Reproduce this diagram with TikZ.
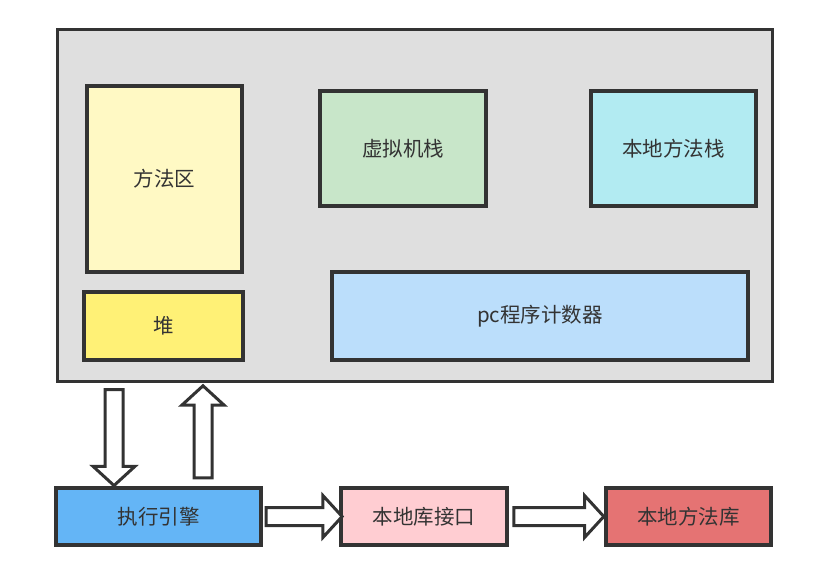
\documentclass[tikz,border=0pt]{standalone}
\usepackage{fontspec}
\setmainfont{Noto Sans CJK SC}
\usetikzlibrary{shapes.arrows,calc}
\definecolor{colLine}{RGB}{51,51,51}
\definecolor{colJvm}{RGB}{223,223,223}
\definecolor{colMethod}{RGB}{255,249,196}
\definecolor{colHeap}{RGB}{255,241,118}
\definecolor{colStack}{RGB}{200,230,201}
\definecolor{colNative}{RGB}{178,235,242}
\definecolor{colPc}{RGB}{187,222,251}
\definecolor{colEngine}{RGB}{100,181,246}
\definecolor{colJni}{RGB}{255,205,210}
\definecolor{colLib}{RGB}{229,115,115}

\begin{document}
\begin{tikzpicture}[
    x=1pt, y=-1pt,
    every node/.style={font=\fontsize{20.5}{24}\selectfont, text=colLine},
    area/.style={draw=colLine, line width=3.3pt, rectangle, inner sep=0pt},
    blockarrow/.style={draw=colLine, fill=white, line width=3pt, single arrow,
        inner xsep=0pt, inner ysep=7.5pt, single arrow head extend=12pt,
        single arrow tip angle=95, single arrow head indent=0pt}
]
    \useasboundingbox (0,0) rectangle (814,567);

    % runtime data area
    \node[area, line width=3pt, fill=colJvm, minimum width=715, minimum height=351] (jvm) at (414.5,205.5) {};

    \node[area, fill=colMethod, minimum width=155, minimum height=186] (method) at (164.5,179) {方法区};
    \node[area, fill=colHeap, minimum width=159, minimum height=68] (heap) at (163.5,326) {堆};
    \node[area, fill=colStack, minimum width=166, minimum height=115] (stack) at (403,148.5) {虚拟机栈};
    \node[area, fill=colNative, minimum width=165, minimum height=115] (native) at (673.5,148.5) {本地方法栈};
    \node[area, fill=colPc, minimum width=416, minimum height=88] (pc) at (540,316) {pc程序计数器};

    % execution side
    \node[area, fill=colEngine, minimum width=205, minimum height=57] (engine) at (158.5,516.5) {执行引擎};
    \node[area, fill=colJni, minimum width=166, minimum height=57] (jni) at (424,516.5) {本地库接口};
    \node[area, fill=colLib, minimum width=165, minimum height=57] (lib) at (688.5,516.5) {本地方法库};

    % block arrows
    \coordinate (gap) at ($(jvm.south)!0.5!(engine.north)$);
    \node[blockarrow, rotate=-90, minimum height=96] (down) at ($(114,0 |- gap)+(0,-1)$) {};
    \node[blockarrow, rotate=90, minimum height=92] (up) at ($(203,0 |- gap)+(0,1.5)$) {};
    \node[blockarrow, minimum height=76] (toJni) at ($(engine.east)!0.5!(jni.west)+(-1,0)$) {};
    \node[blockarrow, minimum height=90] (toLib) at ($(jni.east)+(46,0)$) {};
\end{tikzpicture}
\end{document}
